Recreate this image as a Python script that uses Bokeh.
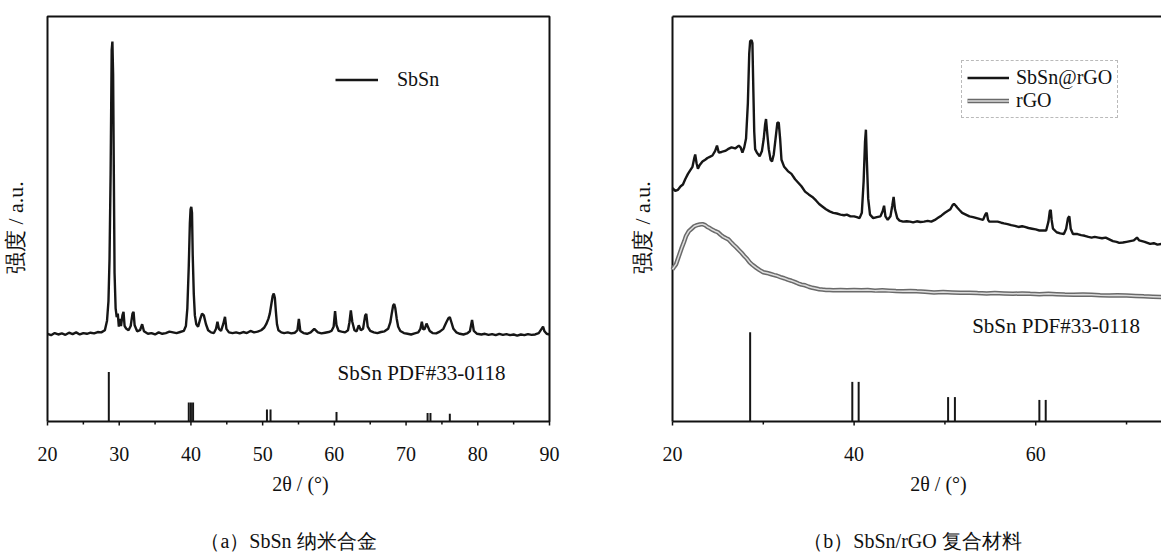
from bokeh.plotting import figure
from bokeh.models import Range1d, Legend, LegendItem, Label
from bokeh.core.properties import value
from bokeh.layouts import row
from bokeh.embed import file_html
from bokeh.resources import INLINE

SERIF = "Liberation Serif"

# ---------------- data (a) SbSn ----------------
sbsn_x = [20.0, 20.5, 21.0, 21.5, 22.0, 22.5, 23.0, 23.5, 24.0, 24.5, 25.0, 25.5, 26.0, 26.5,
          27.0, 27.5, 28.0, 28.3, 28.5, 28.65, 28.8, 28.95, 29.05, 29.15, 29.25, 29.35, 29.5,
          29.65, 29.8, 29.95, 30.1, 30.25, 30.45, 30.6, 30.75, 31.0, 31.3, 31.6, 31.85, 32.0,
          32.15, 32.5, 32.9, 33.2, 33.45, 34.0, 34.5, 35.0, 35.5, 36.0, 36.5, 37.0, 37.5, 38.0,
          38.5, 39.0, 39.3, 39.5, 39.7, 39.85, 39.95, 40.05, 40.15, 40.25, 40.4, 40.55, 40.75,
          41.0, 41.3, 41.55, 41.8, 42.1, 42.4, 42.8, 43.2, 43.5, 43.7, 43.9, 44.2, 44.5, 44.75,
          44.95, 45.3, 45.8, 46.3, 46.8, 47.3, 47.8, 48.3, 48.8, 49.3, 49.8, 50.2, 50.5, 50.8,
          51.0, 51.2, 51.4, 51.55, 51.7, 51.85, 52.0, 52.2, 52.6, 53.0, 53.5, 54.0, 54.5, 54.85,
          55.05, 55.25, 55.7, 56.2, 56.7, 57.2, 57.7, 58.2, 58.7, 59.2, 59.6, 59.9, 60.1, 60.3,
          60.6, 61.0, 61.5, 61.9, 62.1, 62.3, 62.5, 62.8, 63.1, 63.4, 63.7, 64.0, 64.3, 64.45,
          64.65, 65.0, 65.5, 66.0, 66.5, 67.0, 67.5, 67.8, 68.0, 68.2, 68.35, 68.5, 68.7, 68.9,
          69.2, 69.7, 70.2, 70.7, 71.2, 71.7, 72.0, 72.2, 72.4, 72.6, 72.85, 73.0, 73.3, 73.7,
          74.2, 74.7, 75.2, 75.6, 75.9, 76.1, 76.3, 76.6, 77.0, 77.5, 78.0, 78.5, 78.9, 79.2,
          79.45, 79.9, 80.5, 81.0, 81.5, 82.0, 82.5, 83.0, 83.5, 84.0, 84.5, 85.0, 85.5, 86.0,
          86.5, 87.0, 87.5, 88.0, 88.5, 88.9, 89.1, 89.3, 89.6, 90.0]
sbsn_y = [248, 244, 250, 246, 249, 245, 251, 247, 252, 246, 250, 248, 251, 249,
          253, 252, 258, 285, 340, 460, 700, 1050, 1074, 980, 700, 420, 320,
          295, 305, 268, 290, 270, 300, 310, 270, 262, 258, 270, 305, 310,
          272, 255, 258, 275, 255, 248, 250, 246, 252, 248, 250, 254, 252, 250,
          253, 256, 270, 320, 440, 560, 600, 607, 590, 470, 360, 300, 275,
          268, 290, 305, 300, 275, 258, 252, 250, 262, 282, 262, 256, 275, 296,
          262, 252, 250, 252, 249, 253, 250, 256, 252, 254, 258, 265, 275, 290,
          305, 330, 355, 362, 350, 310, 275, 258, 252, 250, 252, 249, 251, 258,
          290, 256, 250, 248, 252, 262, 252, 249, 251, 253, 256, 268, 312, 272,
          256, 254, 252, 258, 280, 314, 282, 258, 255, 272, 258, 262, 300, 304,
          268, 256, 252, 250, 253, 255, 262, 280, 305, 328, 332, 320, 290, 268,
          256, 250, 248, 246, 249, 252, 262, 282, 260, 262, 277, 270, 256, 250,
          249, 254, 262, 280, 292, 295, 282, 262, 252, 248, 246, 249, 255, 287,
          256, 248, 246, 248, 245, 247, 244, 248, 245, 247, 244, 246, 243, 246,
          244, 247, 245, 246, 250, 262, 268, 255, 248, 246]

ref_a_x = [28.55, 39.7, 40.0, 40.3, 50.6, 51.1, 60.3, 73.0, 73.4, 76.1]
ref_a_h = [140, 54, 54, 54, 34, 34, 27, 24, 24, 22]

# ---------------- data (b) SbSn/rGO ----------------
comp_x = [20.0, 20.3, 20.6, 20.9, 21.15, 21.4, 21.7, 22.0, 22.2, 22.4, 22.5, 22.65, 22.8, 23.0,
          23.3, 23.6, 23.85, 24.1, 24.4, 24.7, 24.9, 25.1, 25.4, 25.8, 26.1, 26.5, 26.9, 27.3,
          27.5, 27.7, 27.9, 28.1, 28.3, 28.45, 28.55, 28.7, 28.8, 28.9, 29.0, 29.1, 29.3, 29.6,
          29.85, 30.05, 30.2, 30.3, 30.45, 30.6, 30.8, 30.96, 31.15, 31.35, 31.55, 31.7, 31.85,
          32.0, 32.3, 32.7, 33.1, 33.5, 33.85, 34.2, 34.6, 35.0, 35.4, 35.8, 36.15, 36.5, 36.9,
          37.3, 37.7, 38.1, 38.5, 38.9, 39.2, 39.6, 40.0, 40.3, 40.6, 40.85, 41.05, 41.2, 41.3,
          41.4, 41.55, 41.75, 42.1, 42.5, 42.9, 43.15, 43.3, 43.45, 43.7, 44.0, 44.2, 44.35,
          44.5, 44.75, 45.0, 45.4, 45.8, 46.15, 46.5, 46.9, 47.3, 47.7, 48.1, 48.5, 48.9, 49.2,
          49.6, 50.0, 50.3, 50.6, 50.85, 51.0, 51.2, 51.35, 51.6, 51.9, 52.3, 52.7, 53.1, 53.5,
          53.9, 54.2, 54.45, 54.6, 54.75, 54.9, 55.3, 55.8, 56.2, 56.5, 56.9, 57.3, 57.7, 58.1,
          58.5, 58.8, 59.2, 59.6, 60.0, 60.4, 60.8, 61.15, 61.4, 61.55, 61.65, 61.75, 61.9,
          62.3, 62.7, 63.1, 63.35, 63.55, 63.7, 63.85, 64.1, 64.6, 65.0, 65.4, 65.8, 66.15,
          66.5, 66.9, 67.3, 67.7, 68.1, 68.5, 68.9, 69.2, 69.6, 70.0, 70.4, 70.8, 71.15, 71.4,
          71.7, 72.0, 72.3, 72.6, 73.0, 73.4, 73.85]
comp_y = [660, 652, 655, 665, 670, 685, 700, 712, 720, 745, 755, 730, 715, 725,
          735, 740, 745, 748, 752, 765, 780, 760, 762, 765, 770, 775, 772, 780,
          775, 760, 775, 800, 900, 1040, 1075, 1078, 1070, 940, 820, 770, 760, 750,
          765, 800, 840, 855, 810, 770, 740, 735, 755, 800, 845, 845, 800,
          740, 720, 708, 700, 685, 675, 665, 650, 642, 635, 625, 615, 608, 600,
          594, 590, 588, 585, 583, 585, 580, 580, 578, 575, 590, 680, 790, 825,
          740, 630, 585, 575, 578, 580, 595, 610, 580, 570, 580, 610, 635,
          600, 575, 568, 565, 566, 565, 563, 566, 564, 565, 567, 565, 570, 575,
          582, 590, 595, 600, 612, 615, 610, 605, 598, 590, 585, 580, 578, 575,
          572, 570, 585, 590, 570, 565, 565, 565, 562, 560, 558, 555, 553, 550,
          552, 550, 547, 545, 543, 540, 540, 540, 565, 595, 598, 570, 545,
          535, 532, 530, 545, 575, 580, 545, 530, 530, 527, 525, 522, 520,
          522, 520, 518, 520, 515, 510, 508, 505, 506, 508, 510, 512, 520, 512,
          510, 508, 505, 502, 504, 500, 502]

rgo_x = [20.0, 20.2, 20.4, 20.6, 20.8, 21.0, 21.15, 21.3, 21.5, 21.8, 22.1, 22.4, 22.7, 23.0,
         23.3, 23.6, 23.85, 24.1, 24.4, 24.7, 25.0, 25.3, 25.6, 25.9, 26.15, 26.4, 26.7, 27.0,
         27.3, 27.6, 27.9, 28.2, 28.5, 28.8, 29.2, 29.6, 30.0, 30.4, 30.8, 31.2, 31.5, 31.9,
         32.3, 32.7, 33.1, 33.5, 33.85, 34.2, 34.6, 35.0, 35.4, 35.8, 36.15, 36.5, 36.9, 37.3,
         37.7, 38.5, 39.2, 40.0, 40.8, 41.5, 42.3, 43.1, 43.85, 44.6, 45.4, 46.2, 46.9, 47.8,
         48.8, 49.8, 50.8, 51.7, 52.7, 53.6, 54.6, 55.5, 56.5, 57.5, 58.5, 59.4, 60.4, 61.4,
         62.3, 63.2, 64.2, 65.2, 66.15, 67.1, 68.1, 69.0, 70.0, 71.0, 71.9, 72.9, 73.85]
rgo_y = [430, 438, 445, 460, 475, 490, 500, 510, 525, 538, 545, 552, 555, 557,
         558, 555, 550, 547, 542, 538, 535, 528, 522, 518, 515, 508, 500, 493,
         485, 477, 468, 460, 450, 443, 435, 428, 422, 420, 417, 414, 412, 408,
         405, 401, 398, 394, 390, 387, 385, 381, 378, 376, 374, 373, 372, 372,
         371, 372, 371, 372, 371, 372, 370, 371, 370, 369, 368, 369, 368, 367,
         365, 366, 365, 364, 364, 363, 362, 363, 362, 361, 362, 361, 360, 361,
         360, 359, 358, 359, 358, 357, 356, 357, 356, 355, 354, 353, 352]

ref_b_x = [28.55, 39.8, 40.5, 50.35, 51.1, 60.4, 61.1]
ref_b_h = [252, 112, 112, 69, 69, 61, 61]

ticks_a = [20, 30, 40, 50, 60, 70, 80, 90]
minor_a = [25, 35, 45, 55, 65, 75, 85]
tick_labels_a = ["20", "30", "40", "50", "60", "70", "80", "90"]
ticks_b = [20, 40, 60]
minor_b = [30, 50, 70]
tick_labels_b = ["20", "40", "60"]

X_LABEL = "2θ / (°)"
Y_LABEL = "强度 / a.u."
CAP_A = "（a）SbSn 纳米合金"
CAP_B = "（b）SbSn/rGO 复合材料"
REF_TEXT = "SbSn PDF#33-0118"

# ---------------- geometry (pixels) ----------------
H = 553
TOP, BOTTOM = 16, 421          # plot-box top / bottom, from canvas top
YMAX = 1145
SY = YMAX / (BOTTOM - TOP)     # data units per pixel, vertical


def make_panel(width, box_l, box_r, x_lo, x_hi, clip_right):
    sx = (x_hi - x_lo) / (box_r - box_l)
    xr = Range1d(x_lo - box_l * sx, x_hi + (width - box_r) * sx)
    yr = Range1d(-(H - BOTTOM) * SY, YMAX + TOP * SY)
    p = figure(width=width, height=H, x_range=xr, y_range=yr,
               x_axis_type=None, y_axis_type=None,
               output_backend="svg", toolbar_location=None,
               min_border=0, min_border_left=0, min_border_right=0,
               min_border_top=0, min_border_bottom=0)
    p.grid.visible = False
    p.outline_line_color = None
    p.background_fill_color = "white"
    p.border_fill_color = "white"
    # plot box
    if clip_right:
        p.multi_line(xs=[[x_lo, x_hi], [x_lo, x_lo], [x_lo, x_hi]],
                     ys=[[0, 0], [0, YMAX], [YMAX, YMAX]],
                     line_color="#111111", line_width=2)
    else:
        p.line(x=[x_lo, x_hi, x_hi, x_lo, x_lo], y=[0, 0, YMAX, YMAX, 0],
               line_color="#111111", line_width=2)
    return p, sx


def axis_text(p, sx, ticks, minor, labels, box_l, xlab_px, cap_px, ylab_px):
    n, m = len(ticks), len(minor)
    p.segment(x0=ticks, y0=[0] * n, x1=ticks, y1=[-4 * SY] * n,
              line_color="#111111", line_width=1.5)
    p.segment(x0=minor, y0=[0] * m, x1=minor, y1=[-3 * SY] * m,
              line_color="#111111", line_width=1.5)
    p.text(x=ticks, y=[-32 * SY] * n, text=labels, text_font=value(SERIF),
           text_font_size="20px", text_align="center", text_baseline="middle",
           text_color="#111111")
    x0 = ticks[0]
    p.add_layout(Label(x=x0 + (xlab_px - box_l) * sx, y=-62 * SY, text=X_LABEL,
                       text_font=SERIF, text_font_size="20px", text_align="center",
                       text_baseline="middle", text_color="#111111"))
    p.add_layout(Label(x=x0 - (box_l - ylab_px) * sx, y=548, text=Y_LABEL,
                       text_font=SERIF, text_font_size="22px", text_align="center",
                       text_baseline="middle", angle=90, angle_units="deg",
                       text_color="#111111"))
    return x0 + (cap_px - box_l) * sx


# ---------------- panel (a) ----------------
p1, sx1 = make_panel(610, 47, 549, 20, 90, False)
cap_x1 = axis_text(p1, sx1, ticks_a, minor_a, tick_labels_a, 47, 300, 288, 15)
r_a = p1.line(sbsn_x, sbsn_y, line_color="#161616", line_width=2.4)
p1.segment(x0=ref_a_x, y0=[0] * len(ref_a_x), x1=ref_a_x, y1=ref_a_h,
           line_color="#161616", line_width=2)
p1.add_layout(Label(x=60.45, y=138, text=REF_TEXT, text_font=SERIF, text_font_size="21px",
                    text_baseline="middle", text_color="#111111"))
p1.add_layout(Label(x=cap_x1, y=-119 * SY, text=CAP_A, text_font=SERIF,
                    text_font_size="20px", text_align="center", text_baseline="middle",
                    text_color="#111111"))
leg1 = Legend(items=[LegendItem(label="SbSn", renderers=[r_a])], location=(335, 462),
              border_line_color=None, background_fill_alpha=0,
              label_text_font=SERIF, label_text_font_size="20px", label_text_color="#111111",
              glyph_width=43, glyph_height=23, label_height=23, label_standoff=19,
              padding=0, margin=0)
p1.add_layout(leg1)

# ---------------- panel (b) ----------------
p2, sx2 = make_panel(551, 62, 551, 20, 73.85, True)
cap_x2 = axis_text(p2, sx2, ticks_b, minor_b, tick_labels_b, 62, 328, 302, 32)
r_c = p2.line(comp_x, comp_y, line_color="#161616", line_width=2.4)
r_g1 = p2.line(rgo_x, rgo_y, line_color="#6a6a6a", line_width=4.5)
r_g2 = p2.line(rgo_x, rgo_y, line_color="#dedede", line_width=1.5)
p2.segment(x0=ref_b_x, y0=[0] * len(ref_b_x), x1=ref_b_x, y1=ref_b_h,
           line_color="#161616", line_width=2)
p2.add_layout(Label(x=53.0, y=270, text=REF_TEXT, text_font=SERIF, text_font_size="21px",
                    text_baseline="middle", text_color="#111111"))
p2.add_layout(Label(x=cap_x2, y=-119 * SY, text=CAP_B, text_font=SERIF,
                    text_font_size="20px", text_align="center", text_baseline="middle",
                    text_color="#111111"))
leg2 = Legend(items=[LegendItem(label="SbSn@rGO", renderers=[r_c]),
                     LegendItem(label="rGO", renderers=[r_g1, r_g2])],
              location=(351, 435),
              border_line_color="#777777", border_line_dash="2 2", border_line_width=1.5,
              background_fill_alpha=0,
              label_text_font=SERIF, label_text_font_size="20px", label_text_color="#111111",
              glyph_width=42, glyph_height=23, label_height=23, label_standoff=7,
              padding=5, margin=0, spacing=0)
p2.add_layout(leg2)

layout = row(p1, p2)
open("out.html", "w").write(file_html(layout, INLINE))
